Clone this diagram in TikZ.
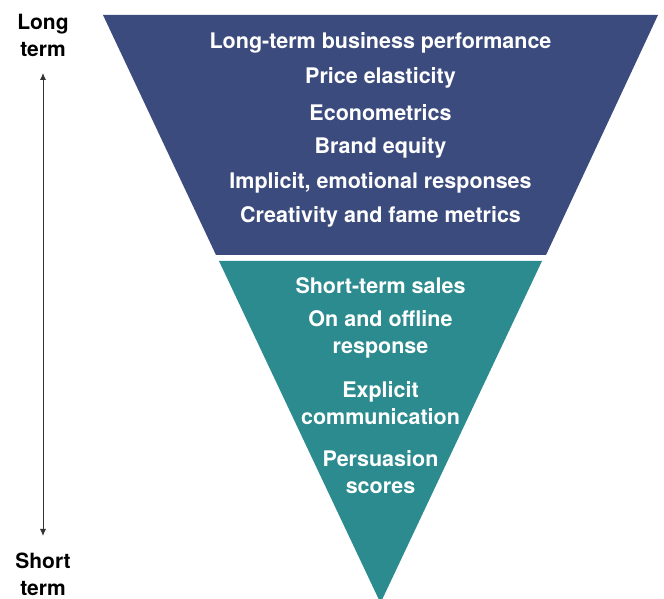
\documentclass[tikz,border=0pt]{standalone}
\usepackage{fontspec}
\setmainfont{TeX Gyre Heros}
\usepackage{xcolor}
\usepackage{tikz}
\usetikzlibrary{arrows.meta,positioning}
\definecolor{funnelblue}{HTML}{3C4B7D}
\definecolor{funnelteal}{HTML}{2B8B8E}
\definecolor{arrowgray}{HTML}{333333}

\begin{document}
\begin{tikzpicture}[
  x=1pt, y=1pt,
  item/.style={
    text=white, font=\bfseries\fontsize{21.5}{27}\selectfont,
    align=center, inner sep=0pt
  },
  side/.style={
    text=black, font=\bfseries\fontsize{21}{27}\selectfont,
    align=center, inner sep=0pt
  },
  arrow/.style={{Latex[length=7pt,width=6pt]}-{Latex[length=7pt,width=6pt]}, draw=arrowgray, line width=0.9pt}
]
\useasboundingbox (0,0) rectangle (664,599);

% funnel parts
\fill[funnelblue] (103,584) -- (658,584) -- (546,344) -- (216,344) -- cycle;
\fill[funnelteal] (219,338) -- (542,338) -- (380.5,-4) -- cycle;

% long term block
\node[item] (perf) at (380.5,556) {Long-term business performance};
\node[item] (price) at (380.5,521) {Price elasticity};
\node[item] (econ) at (380.5,486) {Econometrics};
\node[item] (brand) at (380.5,451) {Brand equity};
\node[item] (implicit) at (380.5,416) {Implicit, emotional responses};
\node[item] (fame) at (380.5,382) {Creativity and fame metrics};

% short term block
\node[item] (sales) at (380.5,313) {Short-term sales};
\node[item] (online) at (380.5,264.5) {On and offline\\response};
\node[item] (explicit) at (380.5,195.5) {Explicit\\communication};
\node[item] (persuade) at (380.5,126.5) {Persuasion\\scores};

% time axis
\node[side] (longlbl) at (43,564) {Long\\term};
\node[side] (shortlbl) at (43,25) {Short\\term};
\coordinate (atop) at (43,526);
\coordinate (abot) at (43,63);
\draw[arrow] (atop) -- (abot);
\end{tikzpicture}
\end{document}
